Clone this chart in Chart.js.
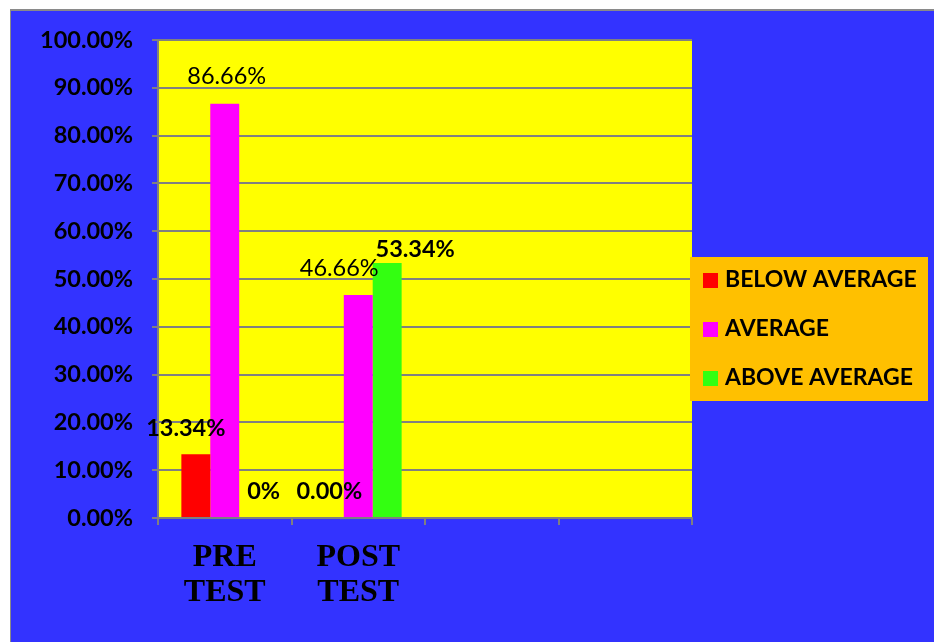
<!DOCTYPE html>
<html>
<head>
<meta charset="utf-8">
<script src="https://cdn.jsdelivr.net/npm/chart.js@4.4.1/dist/chart.umd.min.js"></script>
<style>
html,body{margin:0;padding:0;background:#fff;}
#wrap{position:relative;width:934px;height:642px;}
</style>
</head>
<body>
<div id="wrap"><canvas id="c" width="934" height="642"></canvas></div>
<script>
// ---- data ----
const categories = [['PRE', 'TEST'], ['POST', 'TEST'], '', ''];
const seriesNames = ['BELOW AVERAGE', 'AVERAGE', 'ABOVE AVERAGE'];
const belowAverage = [13.34, 0, null, null];
const average = [86.66, 46.66, null, null];
const aboveAverage = [0, 53.34, null, null];
const belowAverageLabels = ['13.34%', '0.00%'];
const averageLabels = ['86.66%', '46.66%'];
const aboveAverageLabels = ['0%', '53.34%'];
const yTicks = [0, 10, 20, 30, 40, 50, 60, 70, 80, 90, 100];

const colors = ['#FF0000', '#FF00FF', '#33FF11'];

const bgPlugin = {
  id: 'bg',
  beforeDraw(chart) {
    const ctx = chart.ctx;
    ctx.save();
    ctx.fillStyle = '#ffffff';
    ctx.fillRect(0, 0, chart.width, chart.height);
    ctx.fillStyle = '#8a8a8a';
    ctx.fillRect(10, 9, chart.width - 10, chart.height - 9);
    ctx.fillStyle = '#3333FF';
    ctx.fillRect(11, 11, chart.width - 11, chart.height - 11);
    const a = chart.chartArea;
    ctx.fillStyle = '#FFFF00';
    ctx.fillRect(a.left, a.top, a.right - a.left, a.bottom - a.top);
    ctx.restore();
  }
};

const labelPlugin = {
  id: 'valueLabels',
  afterDatasetsDraw(chart, args, opts) {
    const ctx = chart.ctx;
    ctx.save();
    ctx.fillStyle = '#000';
    ctx.textAlign = 'center';
    ctx.textBaseline = 'middle';
    chart.data.datasets.forEach((ds, di) => {
      const meta = chart.getDatasetMeta(di);
      const texts = opts.texts[di];
      texts.forEach((t, i) => {
        const el = meta.data[i];
        if (!el) return;
        const off = opts.offsets[di][i];
        ctx.font = (opts.bold[di] ? 'bold ' : '') + '23.5px Lato';
        ctx.fillText(t, el.x + off[0], el.y + off[1]);
      });
    });
    ctx.restore();
  }
};

const legendPlugin = {
  id: 'boxLegend',
  afterDraw(chart) {
    const ctx = chart.ctx;
    ctx.save();
    ctx.fillStyle = '#FFC000';
    ctx.fillRect(690, 257, 238, 144);
    ctx.font = 'bold 23px Lato';
    ctx.textBaseline = 'middle';
    ctx.textAlign = 'left';
    chart.data.datasets.forEach((ds, i) => {
      const cy = 280 + i * 49;
      ctx.fillStyle = ds.backgroundColor;
      ctx.fillRect(703, cy - 7, 15, 15);
      ctx.fillStyle = '#000';
      ctx.fillText(ds.label, 725, cy);
    });
    ctx.restore();
  }
};

const gridColor = '#808080';

new Chart(document.getElementById('c'), {
  type: 'bar',
  data: {
    labels: categories,
    datasets: [
      { label: seriesNames[0], data: belowAverage, backgroundColor: colors[0] },
      { label: seriesNames[1], data: average, backgroundColor: colors[1] },
      { label: seriesNames[2], data: aboveAverage, backgroundColor: colors[2] }
    ]
  },
  options: {
    responsive: false,
    animation: false,
    devicePixelRatio: 1,
    layout: { padding: { left: 0, top: 40, right: 242, bottom: 0 } },
    datasets: { bar: { categoryPercentage: 0.65, barPercentage: 1, borderWidth: 0 } },
    plugins: {
      legend: { display: false },
      tooltip: { enabled: false },
      valueLabels: {
        texts: [belowAverageLabels, averageLabels, aboveAverageLabels],
        bold: [true, false, true],
        offsets: [
          [[-10, -26], [0, -27]],
          [[2, -27], [-19, -27]],
          [[10, -27], [28, -14]]
        ]
      }
    },
    scales: {
      x: {
        offset: true,
        grid: { display: true, drawOnChartArea: false, tickLength: 7, color: gridColor, lineWidth: 2, offset: true },
        border: { color: gridColor, width: 2 },
        ticks: {
          color: '#000',
          padding: 15,
          maxRotation: 0,
          font: { family: 'Liberation Serif', weight: 'bold', size: 32, lineHeight: 1.1 }
        },
        afterFit(s) { s.height = 124; }
      },
      y: {
        min: 0,
        max: 100,
        afterBuildTicks(s) { s.ticks = yTicks.map(v => ({ value: v })); },
        grid: { color: gridColor, lineWidth: 2, tickLength: 6 },
        border: { color: gridColor, width: 2 },
        ticks: {
          color: '#000',
          padding: 19,
          font: { family: 'Lato', weight: 'bold', size: 23.5 },
          callback: v => v.toFixed(2) + '%'
        },
        afterFit(s) { s.width = 158; }
      }
    }
  },
  plugins: [bgPlugin, labelPlugin, legendPlugin]
});
</script>
</body>
</html>
